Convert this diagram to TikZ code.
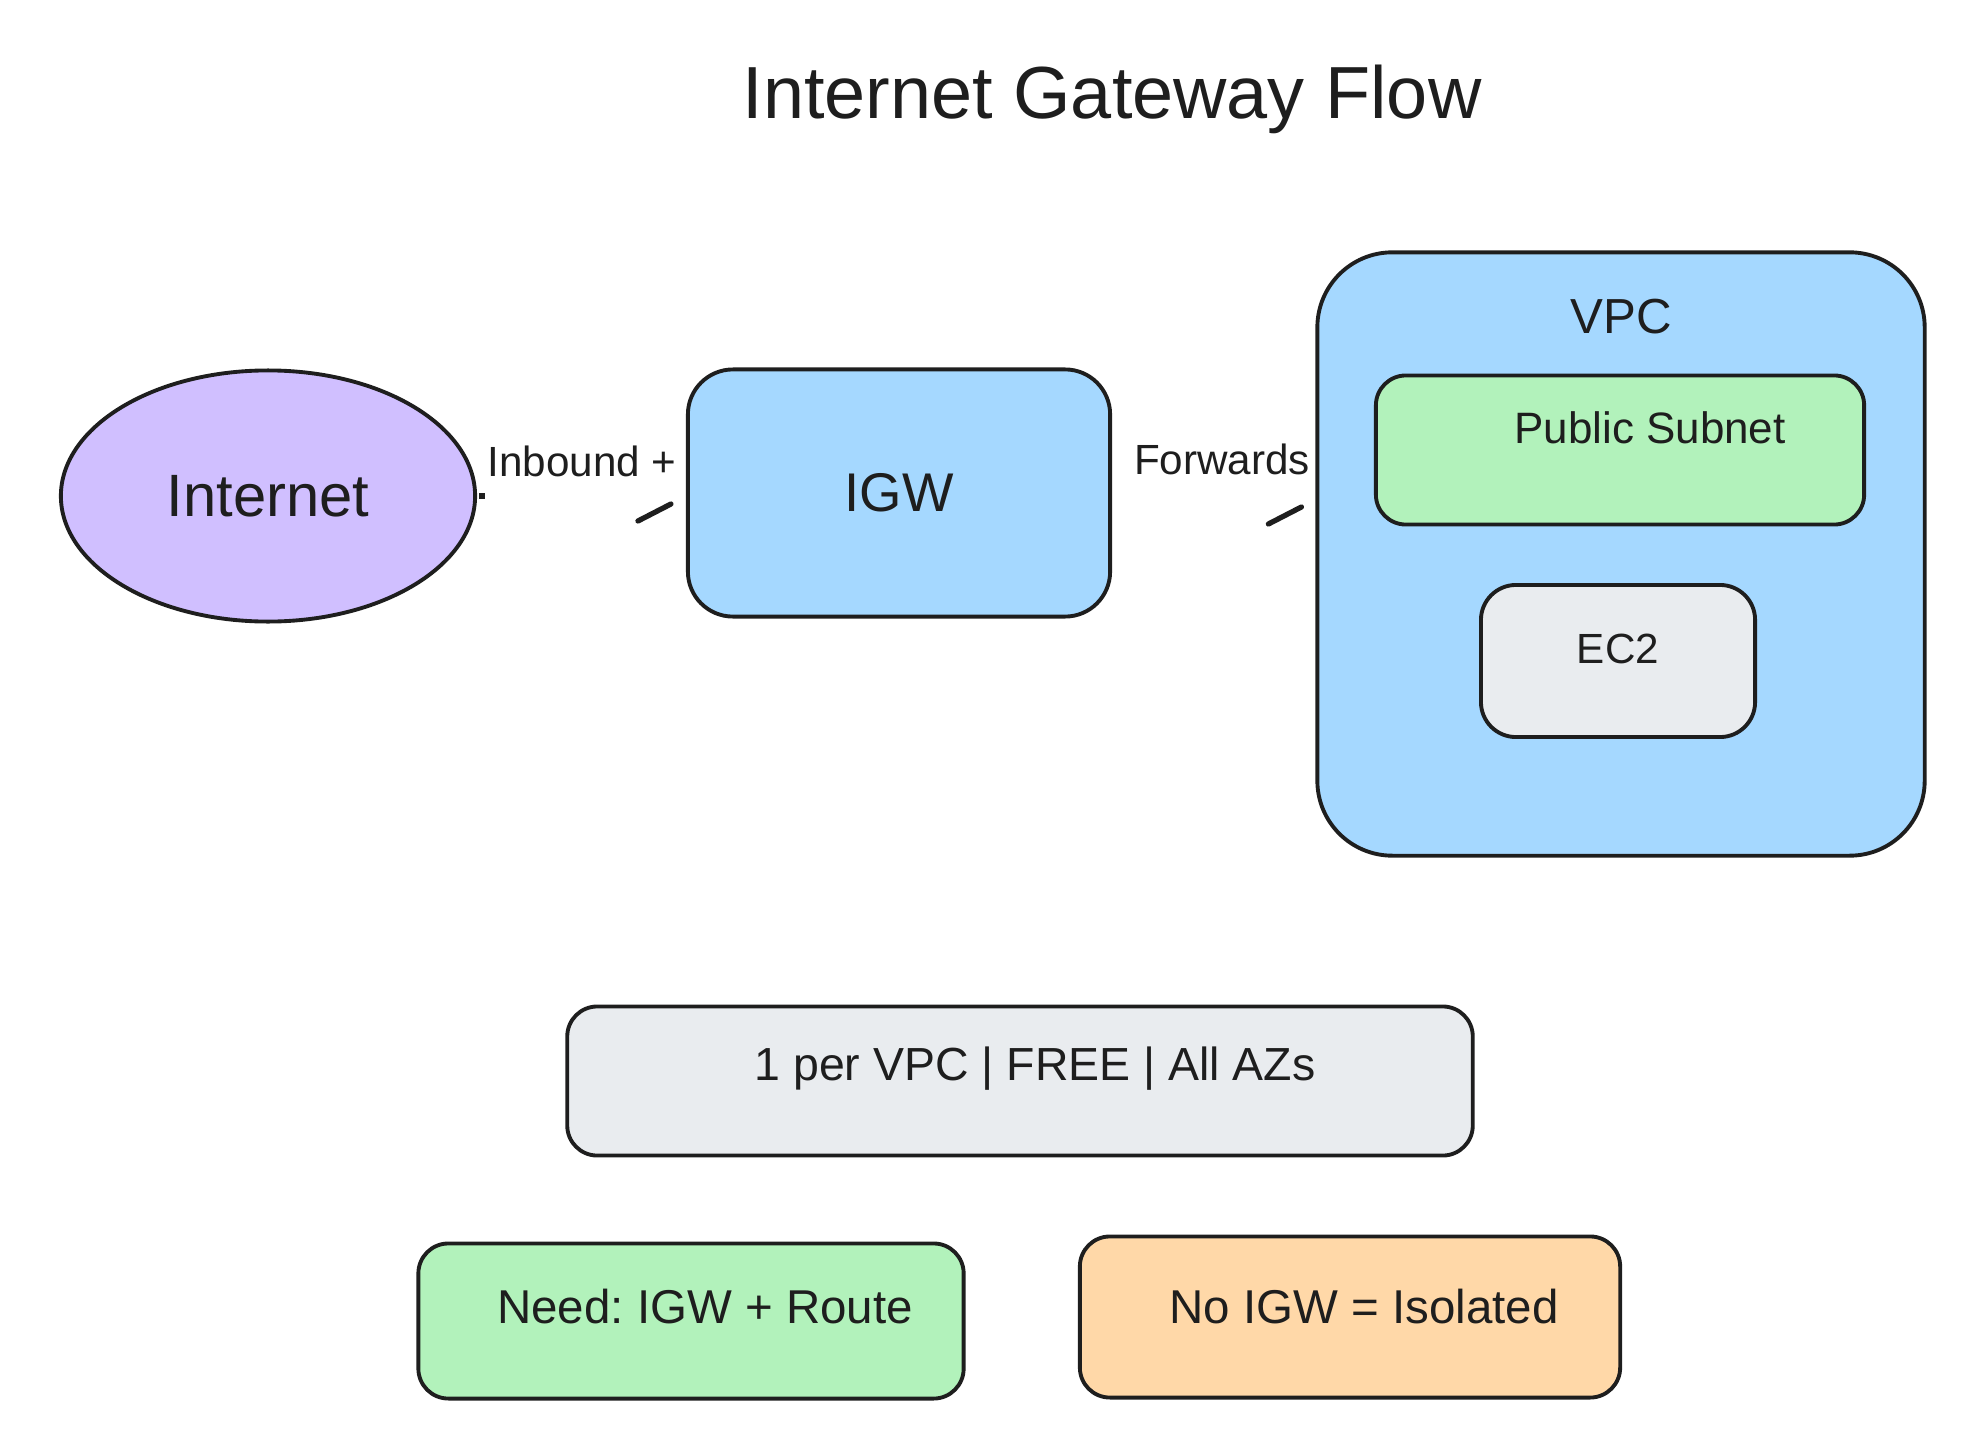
\documentclass[tikz,border=0pt]{standalone}
\usepackage{fontspec}
\setmainfont{Liberation Sans}
\usetikzlibrary{shapes.geometric, positioning}
\definecolor{inkcolor}{HTML}{1E1E1E}
\definecolor{violetfill}{HTML}{D0BFFF}
\definecolor{bluefill}{HTML}{A5D8FF}
\definecolor{greenfill}{HTML}{B2F2BB}
\definecolor{grayfill}{HTML}{E9ECEF}
\definecolor{orangefill}{HTML}{FFD8A8}
\newcommand{\txtsize}[1]{\fontsize{#1}{#1}\selectfont}
\frenchspacing

\begin{document}
\begin{tikzpicture}[
    x=0.01cm, y=-0.01cm,
    box/.style={draw=inkcolor, line width=1.1pt, inner sep=0pt, align=center,
                text=inkcolor, font=\txtsize{13.5}},
    cloud/.style={box, ellipse, fill=violetfill, minimum width=4.14cm,
                  minimum height=2.51cm, font=\txtsize{17}},
    edgetxt/.style={text=inkcolor, inner sep=0pt, font=\txtsize{12}},
    barb/.style={draw=inkcolor, line width=1.5pt, line cap=round}
]
\useasboundingbox (0,0) rectangle (1980,1455);

% Title
\node[text=inkcolor, font=\txtsize{21}] (title) at (1112,99) {Internet Gateway Flow};

% Internet and gateway
\node[cloud] (inet) at (268,496) {Internet};
\node[box, fill=bluefill, rounded corners=0.45cm, minimum width=4.22cm,
      minimum height=2.47cm, font=\txtsize{15.5}] (igw) at (899,493) {IGW};

% VPC with subnet and instance
\node[box, fill=bluefill, rounded corners=0.75cm, minimum width=6.07cm,
      minimum height=6.03cm,
      label={[yshift=2.37cm, font=\txtsize{14}, text=inkcolor]center:VPC}] (vpc) at (1621,554) {};
\node[box, fill=greenfill, rounded corners=0.3cm, minimum width=4.88cm,
      minimum height=1.49cm,
      label={[xshift=0.3cm, yshift=0.22cm, font=\txtsize{12.5}, text=inkcolor]center:Public Subnet}] (pub) at (1620,450) {};
\node[box, fill=grayfill, rounded corners=0.35cm, minimum width=2.74cm,
      minimum height=1.52cm,
      label={[yshift=0.12cm, font=\txtsize{12}, text=inkcolor]center:EC2}] (ec2) at (1618,661) {};

% Connectors (only the ends show)
\fill[inkcolor] ([shift={(2,-3)}]inet.east) rectangle ++(6,6);
\node[edgetxt] (inlbl) at (582,461) {Inbound +};
\draw[barb] ([shift={(-48,28)}]igw.west) -- ([shift={(-15,11)}]igw.west);
\node[edgetxt] (fwlbl) at (1222,459) {Forwards};
\draw[barb] ([shift={(-47,-30)}]vpc.west) -- ([shift={(-14,-47)}]vpc.west);

% Notes
\node[box, fill=grayfill, rounded corners=0.3cm, minimum width=9.05cm,
      minimum height=1.49cm,
      label={[xshift=0.15cm, yshift=0.12cm, font=\txtsize{13.2}, text=inkcolor]center:1 per VPC | FREE | All AZs}] (info) at (1020,1081) {};
\node[box, fill=greenfill, rounded corners=0.3cm, minimum width=5.45cm,
      minimum height=1.55cm,
      label={[xshift=0.14cm, yshift=0.14cm, font=\txtsize{13.5}, text=inkcolor]center:Need: IGW + Route}] (need) at (691,1321) {};
\node[box, fill=orangefill, rounded corners=0.3cm, minimum width=5.4cm,
      minimum height=1.61cm,
      label={[xshift=0.14cm, yshift=0.1cm, font=\txtsize{13.5}, text=inkcolor]center:No IGW = Isolated}] (noigw) at (1350,1317) {};

\end{tikzpicture}
\end{document}
